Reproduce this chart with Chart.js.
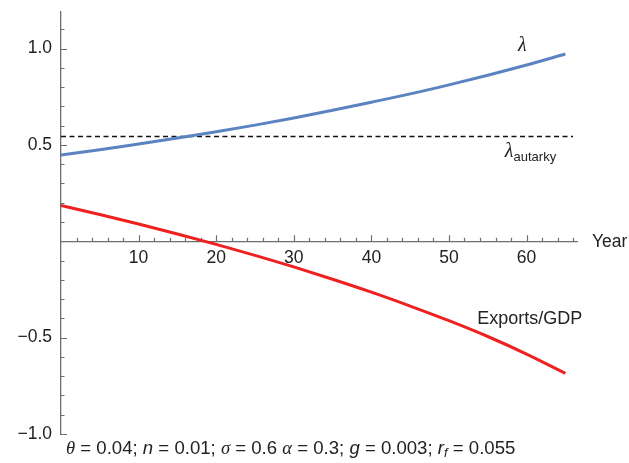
<!DOCTYPE html>
<html>
<head>
<meta charset="utf-8">
<script src="https://cdn.jsdelivr.net/npm/chart.js@4"></script>
<style>
  body { margin: 0; background: #fff; }
  canvas { display: block; }
</style>
</head>
<body>
<canvas id="chart" width="629" height="463"></canvas>
<script>
// values
const years = [0, 5, 10, 15, 20, 25, 30, 35, 40, 45, 50, 55, 60, 65];
const lambda = [0.448, 0.475, 0.505, 0.536, 0.568, 0.603, 0.640, 0.680, 0.722, 0.765, 0.812, 0.862, 0.915, 0.972];
const exportsGdp = [0.186, 0.139, 0.090, 0.038, -0.016, -0.073, -0.133, -0.197, -0.264, -0.336, -0.412, -0.494, -0.585, -0.685];
const autarkyYears = [0, 66];
const lambdaAutarky = 0.544;

const xTicks = [10, 20, 30, 40, 50, 60];
const yTicks = [-1.0, -0.5, 0.5, 1.0];

const AXIS_COLOR = "#6e6e6e";
const TEXT_COLOR = "#222";
const SANS = '"Liberation Sans", Arial, sans-serif';
const SERIF = '"Liberation Serif", "Times New Roman", serif';

Chart.defaults.font.family = SANS;
Chart.defaults.font.size = 17.5;
Chart.defaults.color = TEXT_COLOR;

function toPoints(xs, ys) {
  return xs.map((x, i) => ({ x: x, y: ys[i] }));
}

// Mathematica style ticks pointing into the plot
const innerTicks = {
  id: "innerTicks",
  beforeDatasetsDraw(chart) {
    const { ctx, scales: { x, y } } = chart;
    const x0 = x.getPixelForValue(0);
    const y0 = y.getPixelForValue(0);
    ctx.save();
    ctx.strokeStyle = AXIS_COLOR;
    ctx.lineWidth = 1.2;
    ctx.beginPath();
    for (let v = 2; v <= 66; v += 2) {
      const px = Math.round(x.getPixelForValue(v)) + 0.5;
      const len = v % 10 === 0 ? 6 : 3.5;
      ctx.moveTo(px, y0);
      ctx.lineTo(px, y0 - len);
    }
    for (let i = -10; i <= 11; i++) {
      if (i === 0) continue;
      const py = Math.round(y.getPixelForValue(i / 10)) + 0.5;
      const len = i % 5 === 0 ? 6 : 3.5;
      ctx.moveTo(x0, py);
      ctx.lineTo(x0 + len, py);
    }
    ctx.stroke();
    ctx.restore();
  }
};

function drawRuns(ctx, runs, left, baseline) {
  let cx = left;
  for (const r of runs) {
    ctx.font = r.font;
    ctx.fillText(r.text, cx, baseline + (r.dy || 0));
    cx += ctx.measureText(r.text).width;
  }
}

const labels = {
  id: "labels",
  afterDatasetsDraw(chart) {
    const { ctx, scales: { x, y } } = chart;
    ctx.save();
    ctx.fillStyle = TEXT_COLOR;
    ctx.textBaseline = "alphabetic";

    // lambda
    ctx.font = "italic 20px " + SERIF;
    ctx.fillText("λ", x.getPixelForValue(58.9), y.getPixelForValue(1.02) + 6);

    // lambda autarky
    drawRuns(ctx, [
      { text: "λ", font: "italic 20px " + SERIF },
      { text: "autarky", font: "13px " + SANS, dy: 4 }
    ], x.getPixelForValue(57.2), y.getPixelForValue(0.47) + 6);

    // Exports/GDP
    ctx.font = "18px " + SANS;
    ctx.textAlign = "center";
    ctx.fillText("Exports/GDP", x.getPixelForValue(60.4), y.getPixelForValue(-0.40) + 6);
    ctx.textAlign = "left";

    // axis title
    ctx.font = "17.5px " + SANS;
    ctx.fillText("Year", x.right + 15, y.getPixelForValue(0) + 6);

    // parameter line under the plot
    const it = "italic 18.6px ";
    const rg = "18.6px " + SANS;
    drawRuns(ctx, [
      { text: "θ", font: it + SERIF },
      { text: " = 0.04; ", font: rg },
      { text: "n", font: it + SANS },
      { text: " = 0.01; ", font: rg },
      { text: "σ", font: it + SERIF },
      { text: " = 0.6 ", font: rg },
      { text: "α", font: it + SERIF },
      { text: " = 0.3; ", font: rg },
      { text: "g", font: it + SANS },
      { text: " = 0.003; ", font: rg },
      { text: "r", font: it + SANS },
      { text: "f", font: "italic 13px " + SANS, dy: 3 },
      { text: " = 0.055", font: rg }
    ], 66, 453.5);

    ctx.restore();
  }
};

new Chart(document.getElementById("chart"), {
  type: "line",
  data: {
    datasets: [
      {
        label: "lambda",
        data: toPoints(years, lambda),
        borderColor: "#5b83c2",
        borderWidth: 3,
        pointRadius: 0,
        cubicInterpolationMode: "monotone"
      },
      {
        label: "Exports/GDP",
        data: toPoints(years, exportsGdp),
        borderColor: "#ee2020",
        borderWidth: 3,
        pointRadius: 0,
        cubicInterpolationMode: "monotone"
      },
      {
        label: "lambda autarky",
        data: toPoints(autarkyYears, [lambdaAutarky, lambdaAutarky]),
        borderColor: "#111",
        borderWidth: 1.6,
        borderDash: [5, 3.5],
        pointRadius: 0
      }
    ]
  },
  options: {
    responsive: false,
    animation: false,
    layout: { padding: { top: 12, right: 52, bottom: 29, left: 0 } },
    plugins: {
      legend: { display: false },
      tooltip: { enabled: false }
    },
    scales: {
      x: {
        type: "linear",
        min: 0,
        max: 66.5,
        position: { y: 0 },
        grid: { display: false, drawTicks: false },
        border: { color: AXIS_COLOR, width: 1.3 },
        ticks: { padding: 6, maxRotation: 0 },
        afterBuildTicks: (scale) => {
          scale.ticks = xTicks.map((v) => ({ value: v }));
        }
      },
      y: {
        type: "linear",
        min: -1.0,
        max: 1.19,
        grid: { display: false, drawTicks: false },
        border: { color: AXIS_COLOR, width: 1.3 },
        ticks: {
          padding: 9,
          callback: (v) => (v < 0 ? "\u2212" : "") + Math.abs(v).toFixed(1)
        },
        afterBuildTicks: (scale) => {
          scale.ticks = yTicks.map((v) => ({ value: v }));
        },
        afterFit: (scale) => {
          scale.width = 61;
          scale.paddingTop = 0;
          scale.paddingBottom = 0;
        }
      }
    }
  },
  plugins: [innerTicks, labels]
});
</script>
</body>
</html>
